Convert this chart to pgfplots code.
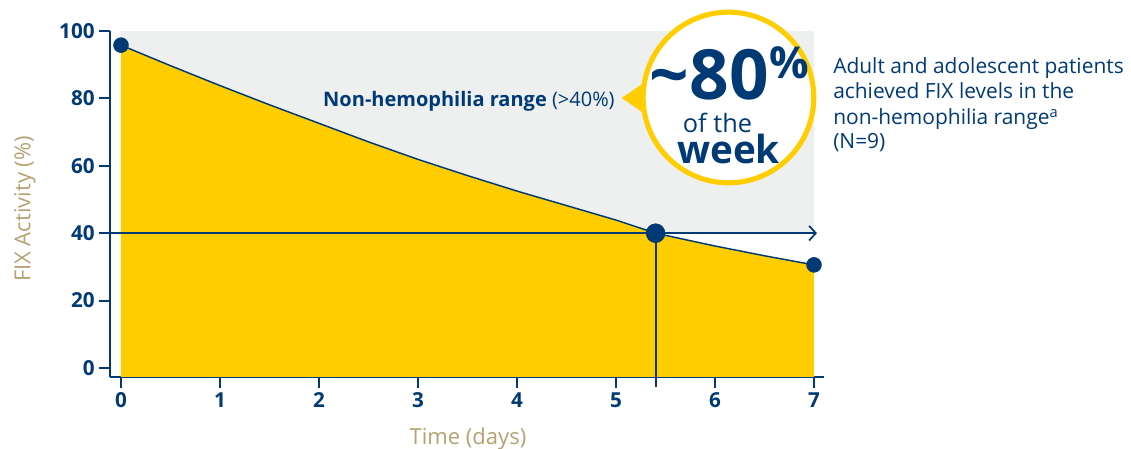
\documentclass[border=0pt]{standalone}
\usepackage{pgfplots}
\pgfplotsset{compat=1.18}
\usepackage{pgfplotstable}
\usetikzlibrary{arrows.meta}
\usepackage{fontspec}
\setmainfont{Open Sans}

\definecolor{navy}{HTML}{003A74}
\definecolor{fixyellow}{HTML}{FFCD00}
\definecolor{bggray}{HTML}{EEF0F0}
\definecolor{tan}{HTML}{B4A273}

% FIX activity over one week
\pgfplotstableread{
x y
0 95.8
0.5 89.7
1 83.8
1.5 78.1
2 72.6
2.5 67.1
3 61.9
3.5 57.1
4 52.5
4.5 48.2
5 43.9
5.4 40.0
6 36.2
6.5 33.3
7 30.6
}\curvedata

\pgfplotstableread{
x y
0 -2.67
0 95.8
0.5 89.7
1 83.8
1.5 78.1
2 72.6
2.5 67.1
3 61.9
3.5 57.1
4 52.5
4.5 48.2
5 43.9
5.4 40.0
6 36.2
6.5 33.3
7 30.6
7 -2.67
}\areadata

\begin{document}
\begin{tikzpicture}
\begin{axis}[
  scale only axis,
  width=535.5pt,
  height=259.5pt,
  xmin=-0.111, xmax=7.101,
  ymin=-2.67, ymax=100,
  axis x line*=bottom,
  axis y line*=left,
  axis line style={navy, line width=1.5pt},
  xtick={0,1,...,7},
  ytick={0,20,...,100},
  tick align=outside,
  major tick length=8pt,
  tick style={navy, line width=1.5pt},
  ticklabel style={font=\bfseries\fontsize{15.5}{18}\selectfont, text=navy},
  /pgf/number format/assume math mode=true,
  clip=false,
]
% non-hemophilia range band
\addplot[draw=none, fill=bggray] coordinates {(0,40) (0,100) (7,100) (7,40)} -- cycle;
% area under the curve
\addplot[draw=none, fill=fixyellow] table {\areadata} -- cycle;
\addplot[navy, line width=1.1pt] table {\curvedata};
% 40% threshold and crossing time
\addplot[navy, line width=1.4pt, -{Straight Barb[length=5pt, width=11pt, line width=1.3pt]}]
  coordinates {(-0.111,40) (7.03,40)};
\addplot[navy, line width=1.4pt] coordinates {(5.4,40) (5.4,-5.64)};
\addplot[navy, only marks, mark=*, mark size=5.6pt] coordinates {(0,95.8) (7,30.6)};
\addplot[navy, only marks, mark=*, mark size=7.1pt] coordinates {(5.4,40)};

% callout
\fill[fixyellow] (axis cs:5.058,80.12) -- (axis cs:5.323,85.46) -- (axis cs:5.323,74.78) -- cycle;
\draw[fixyellow, fill=white, line width=3.8pt] (axis cs:6.136,80.27) circle[radius=64pt];
\node[anchor=base east, inner sep=0, text=navy, font=\bfseries\fontsize{52}{52}\selectfont]
  at (axis cs:6.545,79.53) {\textasciitilde80};
\node[anchor=base west, inner sep=0, text=navy, font=\bfseries\fontsize{33}{33}\selectfont]
  at (axis cs:6.545,86.05) {\%};
\node[anchor=base, inner sep=0, text=navy, font=\fontsize{19}{19}\selectfont]
  at (axis cs:6.025,70.0) {of the};
\node[anchor=base, inner sep=0, text=navy, font=\bfseries\fontsize{29}{29}\selectfont]
  at (axis cs:6.136,60.6) {week};

\node[anchor=base west, inner sep=0, text=navy, font=\fontsize{15}{18}\selectfont]
  at (axis cs:2.040,77.74) {\textbf{Non-hemophilia range} (>40\%)};

% side note
\begin{scope}[every node/.style={anchor=base west, inner sep=0, text=navy, font=\fontsize{15.7}{18}\selectfont}]
\node at (axis cs:7.192,87.45) {Adult and adolescent patients};
\node at (axis cs:7.192,79.88) {achieved FIX levels in the};
\node at (axis cs:7.192,72.31) {non-hemophilia range\textsuperscript{a}};
\node at (axis cs:7.192,64.99) {(N=9)};
\end{scope}

% axis titles
\node[rotate=90, inner sep=0, text=tan, font=\fontsize{16.5}{18}\selectfont]
  at (axis cs:-0.97,47.2) {FIX Activity (\%)};
\node[anchor=base, inner sep=0, text=tan, font=\fontsize{16.5}{18}\selectfont]
  at (axis cs:3.505,-22.6) {Time (days)};

\coordinate (bbsw) at (axis cs:-1.2222,-23.74);
\coordinate (bbne) at (axis cs:10.202,109.2);
\end{axis}
\pgfresetboundingbox
\path[use as bounding box] (bbsw) rectangle (bbne);
\end{tikzpicture}
\end{document}
